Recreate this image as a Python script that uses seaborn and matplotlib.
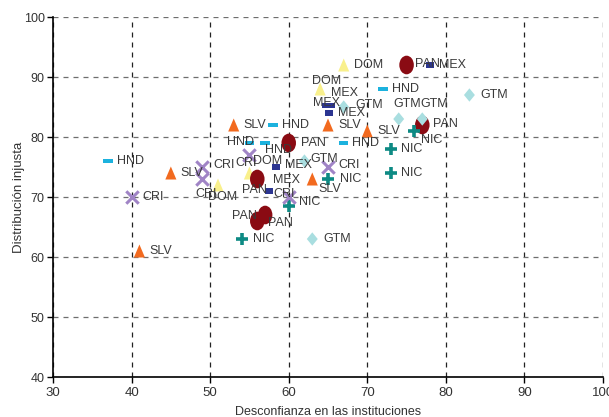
import matplotlib.pyplot as plt
import pandas as pd
import seaborn as sns
from matplotlib.path import Path
from matplotlib.transforms import Affine2D

# país de cada observación
pais = (["HND"] * 6 + ["SLV"] * 6 + ["DOM"] * 4 + ["PAN"] * 6
        + ["MEX"] * 6 + ["GTM"] * 6 + ["CRI"] * 6 + ["NIC"] * 6)

# desconfianza en las instituciones (eje x)
desconfianza = [
    37, 58, 55, 57, 67, 72,            # HND
    41, 45, 53, 65, 70, 63,            # SLV
    67, 64, 51, 55,                    # DOM
    75, 77, 60, 56, 57, 56,            # PAN
    78, 65.4, 64.8, 65.1, 58.4, 57.5,  # MEX
    83, 74, 77, 67, 62, 63,            # GTM
    40, 49, 49, 55, 65, 60,            # CRI
    76, 73, 73, 65, 60, 54,            # NIC
]

# distribución injusta (eje y)
injusta = [
    76, 82, 79, 79, 79, 88,            # HND
    61, 74, 82, 82, 81, 73,            # SLV
    92, 88, 72, 74,                    # DOM
    92, 82, 79, 73, 67, 66,            # PAN
    92, 85.2, 85.2, 84, 75, 71,        # MEX
    87, 83, 83, 85, 76, 63,            # GTM
    70, 75, 73, 77, 75, 70,            # CRI
    81, 78, 74, 73, 68.5, 63,          # NIC
]

# desplazamiento de cada etiqueta (pixeles), para evitar solapes como en el original
etiqueta_dx = [
    9, 9, -22, 0, 8, 9,
    10, 10, 10, 10, 10, 6,
    10, -8, -10, 4,
    8, 11, 12, -15, 3, -25,
    9, 0, -13, 9, 9, 4,
    11, -5, -2, 12, 6, 11,
    11, 11, -7, -14, 10, -15,
    7, 10, 10, 12, 10, 11,
]
etiqueta_dy = [
    0, 0, 1, -7, 0, 0,
    0, 0, 0, 0, 0, -10,
    0, 8, -12, 12,
    1, 1, 0, -11, -8, 5,
    0, 13, 3, 0, 2, 11,
    0, 15, 15, 2, 2, 0,
    0, 2, -15, -8, 2, 3,
    -9, 0, 0, 0, 4, 0,
]

df = pd.DataFrame({"pais": pais, "x": desconfianza, "y": injusta})

# formas de los marcadores
elipse = Path.unit_circle().transformed(Affine2D().scale(0.78, 1.0))
guion = Path([(-1, -0.42), (1, -0.42), (1, 0.42), (-1, 0.42), (-1, -0.42)], closed=True)
rect = Path([(-1, -0.65), (1, -0.65), (1, 0.65), (-1, 0.65), (-1, -0.65)], closed=True)
triangulo = Path([(0, 1), (0.85, -1), (-0.85, -1), (0, 1)], closed=True)
rombo = Path([(0, 1), (0.82, 0), (0, -1), (-0.82, 0), (0, 1)], closed=True)

# orden de dibujo, color, marcador, tamaño, grosor de línea
estilos = {
    "DOM": ("#f9f08c", triangulo, 88, 0),
    "SLV": ("#f26a1f", triangulo, 88, 0),
    "HND": ("#1cb2de", guion, 46, 0),
    "PAN": ("#8a0b13", elipse, 180, 0),
    "MEX": ("#2c3591", rect, 34, 0),
    "GTM": ("#a9dee0", rombo, 92, 0),
    "NIC": ("#0d8a84", "+", 80, 2.6),
    "CRI": ("#a084c6", "x", 80, 2.2),
}

sns.set_style("ticks")
plt.rcParams["font.family"] = ["Liberation Sans", "DejaVu Sans"]

fig = plt.figure(figsize=(6.09, 4.17), dpi=100)
ax = fig.add_axes([53 / 609, 40 / 417, 550 / 609, 360 / 417])

for p, (color, marcador, tam, lw) in estilos.items():
    sub = df[df["pais"] == p]
    if lw == 0:
        sns.scatterplot(data=sub, x="x", y="y", marker=marcador, s=tam, color=color,
                        edgecolor="none", linewidth=0, ax=ax, zorder=3, legend=False)
    else:
        sns.scatterplot(data=sub, x="x", y="y", marker=marcador, s=tam, color=color,
                        linewidth=lw, ax=ax, zorder=3, legend=False)

# etiquetas de los puntos
for i, row in df.iterrows():
    ax.annotate(row["pais"], (row["x"], row["y"]),
                xytext=(etiqueta_dx[i], etiqueta_dy[i]), textcoords="offset pixels",
                ha="left", va="center", fontsize=9, color="#3a3a3a", zorder=5)

ax.set_xlim(30, 100)
ax.set_ylim(40, 100)
ax.set_xticks(range(30, 101, 10))
ax.set_yticks(range(40, 101, 10))

ax.set_axisbelow(True)
ax.xaxis.grid(True, color="#222222", linestyle=(0, (4, 4)), linewidth=0.9)
ax.yaxis.grid(True, color="#6e6e6e", linestyle=(0, (4, 4)), linewidth=0.9)

for s in ["top", "right"]:
    ax.spines[s].set_visible(False)
for s in ["left", "bottom"]:
    ax.spines[s].set_color("black")
    ax.spines[s].set_linewidth(1.2)

ax.tick_params(axis="both", length=4, width=1, color="black", labelsize=9.5,
               labelcolor="#333333", pad=3)
ax.tick_params(axis="y", labelsize=9, pad=2)

ax.set_xlabel("Desconfianza en las instituciones", fontsize=9, color="#333333", labelpad=5)
ax.set_ylabel("Distribución injusta", fontsize=9.5, color="#333333", labelpad=-1)

fig.savefig("out.png", dpi=100)
